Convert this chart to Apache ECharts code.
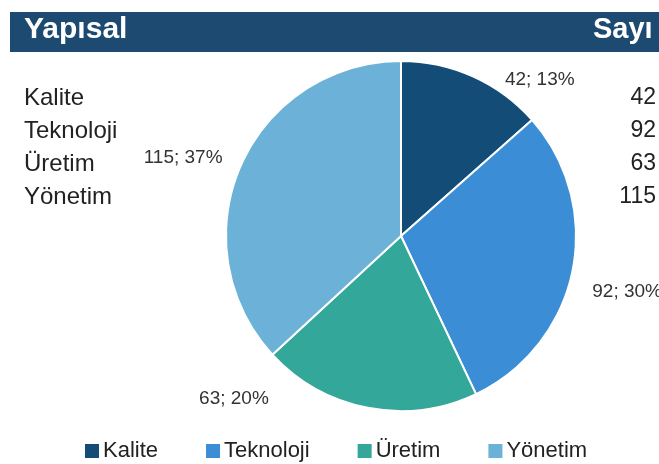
<!DOCTYPE html>
<html>
<head>
<meta charset="utf-8">
<script src="https://cdn.jsdelivr.net/npm/echarts@6/dist/echarts.min.js"></script>
<style>
  html, body { margin: 0; padding: 0; background: #fff; }
  #main { width: 659px; height: 464px; }
</style>
</head>
<body>
<div id="main"></div>
<script>
// kategoriler ve değerler
var kategoriler = ['Kalite', 'Teknoloji', 'Üretim', 'Yönetim'];
var sayilar = [42, 92, 63, 115];
var renkler = ['#124c77', '#3b8ed6', '#33a79a', '#6cb1d8'];
var baslikSol = 'Yapısal';
var baslikSag = 'Sayı';
// etiketlerin Excel'deki yerine kaydırılması
var etiketKaydir = [[23, 12], [5, 19], [-92, -19], [-4, -4]];

var myChart = echarts.init(document.getElementById('main'));
var yazi = '"Liberation Sans", Arial';

var pieData = [];
for (var i = 0; i < kategoriler.length; i++) {
  pieData.push({ name: kategoriler[i], value: sayilar[i], itemStyle: { color: renkler[i] } });
}

// sol ve sağ tablo metinleri
var tabloMetin = [];
for (var j = 0; j < kategoriler.length; j++) {
  tabloMetin.push({
    type: 'text', left: 24, top: 86 + j * 33,
    style: { text: kategoriler[j], fill: '#222', font: '24px ' + yazi }
  });
  tabloMetin.push({
    type: 'text', right: 3, top: 86 + j * 33,
    style: { text: String(sayilar[j]), fill: '#222', font: '23px ' + yazi, align: 'right' }
  });
}

option = {
  backgroundColor: '#fff',
  graphic: [
    { type: 'rect', shape: { x: 10, y: 12, width: 660, height: 40 }, style: { fill: '#1d4a70' } },
    { type: 'text', left: 24, top: 15, style: { text: baslikSol, fill: '#fff', font: 'bold 30px ' + yazi } },
    { type: 'text', left: 593, top: 15, style: { text: baslikSag, fill: '#fff', font: 'bold 29px ' + yazi } }
  ].concat(tabloMetin),
  legend: {
    top: 435,
    left: 78,
    icon: 'rect',
    itemWidth: 16,
    itemHeight: 16,
    itemGap: 46,
    textStyle: { fontSize: 22, color: '#222', fontFamily: yazi, padding: [0, 0, 0, -2] },
    data: kategoriler
  },
  series: [
    {
      name: baslikSag,
      type: 'pie',
      center: [401, 236],
      radius: 175,
      startAngle: 90,
      clockwise: true,
      percentPrecision: 0,
      itemStyle: { borderColor: '#fff', borderWidth: 2 },
      label: {
        show: true,
        position: 'outside',
        formatter: '{c}; {d}%',
        fontSize: 19,
        color: '#333',
        fontFamily: yazi,
        overflow: 'none'
      },
      labelLine: { show: false, length: 10, length2: 0 },
      labelLayout: function (p) {
        return { dx: etiketKaydir[p.dataIndex][0], dy: etiketKaydir[p.dataIndex][1] };
      },
      data: pieData
    }
  ]
};

myChart.setOption(option);
</script>
</body>
</html>
